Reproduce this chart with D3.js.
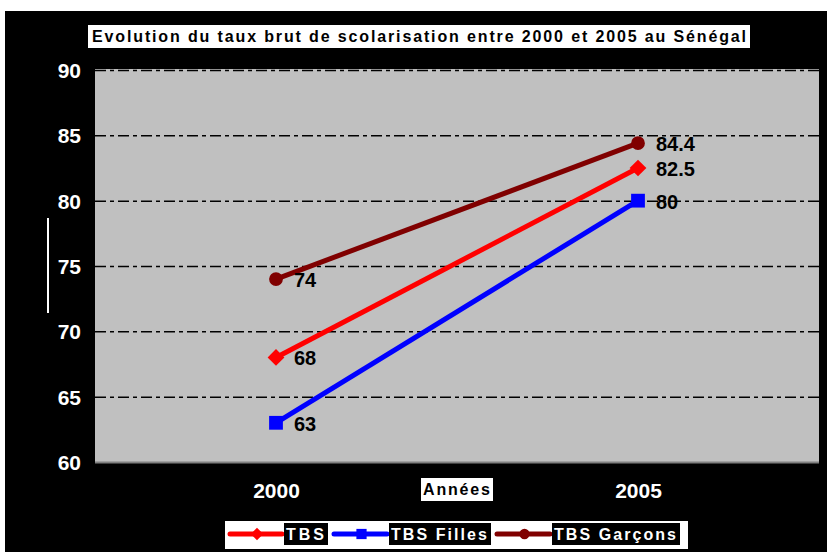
<!DOCTYPE html>
<html>
<head>
<meta charset="utf-8">
<script src="https://cdn.jsdelivr.net/npm/d3@7"></script>
<style>
  body { margin: 0; background: #fff; }
  text { font-family: Arial, "Liberation Sans", sans-serif; font-weight: bold; }
</style>
</head>
<body>
<div id="chart-area"></div>
<script>
const years = ["2000", "2005"];
const tbs = [68, 82.5];
const tbsFilles = [63, 80];
const tbsGarcons = [74, 84.4];
const yTicks = [60, 65, 70, 75, 80, 85, 90];

const series = [
  { name: "TBS", values: tbs, color: "#ff0000", symbol: d3.symbolSquare, rotate: 45, size: 140 },
  { name: "TBS Filles", values: tbsFilles, color: "#0000ff", symbol: d3.symbolSquare, rotate: 0, size: 190 },
  { name: "TBS Garçons", values: tbsGarcons, color: "#800000", symbol: d3.symbolCircle, rotate: 0, size: 150 }
];

const W = 827, H = 552;
const plot = { left: 95, right: 819, top: 70, bottom: 462 };
const font = "Arial, 'Liberation Sans', sans-serif";

const svg = d3.select("#chart-area")
  .append("svg")
    .attr("width", W)
    .attr("height", H);

// black frame with thin white margin
svg.append("rect")
  .attr("x", 5).attr("y", 11)
  .attr("width", W - 5).attr("height", H - 11)
  .attr("fill", "#000");

const xScale = d3.scalePoint()
  .domain(years)
  .range([plot.left, plot.right])
  .padding(0.5);

const yScale = d3.scaleLinear()
  .domain([60, 90])
  .range([plot.bottom, plot.top]);

svg.append("rect")
  .attr("x", plot.left).attr("y", plot.top - 1)
  .attr("width", plot.right - plot.left)
  .attr("height", plot.bottom - plot.top + 1)
  .attr("fill", "#c0c0c0");

// dash-dot gridlines
const yAxis = d3.axisLeft(yScale)
  .tickValues(yTicks)
  .tickSize(-(plot.right - plot.left))
  .tickPadding(14)
  .tickFormat(d3.format("d"));

const gy = svg.append("g")
  .attr("transform", `translate(${plot.left},0)`)
  .call(yAxis);
gy.select(".domain").remove();
gy.selectAll(".tick line")
  .attr("stroke", d => d === 60 ? "#808080" : "#000")
  .attr("stroke-width", d => d === 60 ? 2 : 1.5)
  .attr("stroke-dasharray", d => d === 60 ? null : "11,4,4,4");
gy.selectAll(".tick text")
  .attr("fill", "#fff")
  .attr("dy", "0.36em")
  .style("font-size", "21px")
  .style("font-family", font)
  .style("font-weight", "bold");

// leftover axis title stub
svg.append("rect")
  .attr("x", 47).attr("y", 218)
  .attr("width", 2).attr("height", 95)
  .attr("fill", "#fff");

const xAxis = d3.axisBottom(xScale).tickSize(0).tickPadding(21);
const gx = svg.append("g")
  .attr("transform", `translate(0,${plot.bottom})`)
  .call(xAxis);
gx.select(".domain").remove();
gx.selectAll(".tick text")
  .attr("fill", "#fff")
  .style("font-size", "21px")
  .style("font-family", font)
  .style("font-weight", "bold");

// title
svg.append("rect")
  .attr("x", 88).attr("y", 25)
  .attr("width", 662).attr("height", 23)
  .attr("fill", "#fff");
svg.append("text")
  .attr("x", 92).attr("y", 42)
  .attr("textLength", 654)
  .attr("lengthAdjust", "spacing")
  .style("font-size", "16px")
  .text("Evolution du taux brut de scolarisation entre 2000 et 2005 au Sénégal");

// x axis title
svg.append("rect")
  .attr("x", 421).attr("y", 478)
  .attr("width", 72).attr("height", 23)
  .attr("fill", "#fff");
svg.append("text")
  .attr("x", 423).attr("y", 495)
  .attr("textLength", 67)
  .attr("lengthAdjust", "spacing")
  .style("font-size", "16px")
  .text("Années");

const line = d3.line()
  .x((d, i) => xScale(years[i]))
  .y(d => yScale(d));

series.forEach(s => {
  svg.append("path")
    .datum(s.values)
    .attr("fill", "none")
    .attr("stroke", s.color)
    .attr("stroke-width", 5)
    .attr("d", line);

  svg.selectAll(null)
    .data(s.values)
    .enter()
    .append("path")
    .attr("transform", (d, i) => `translate(${xScale(years[i])},${yScale(d)}) rotate(${s.rotate})`)
    .attr("d", d3.symbol().type(s.symbol).size(s.size))
    .attr("fill", s.color);

  svg.selectAll(null)
    .data(s.values)
    .enter()
    .append("text")
    .attr("x", (d, i) => xScale(years[i]) + 18)
    .attr("y", d => yScale(d) + 8)
    .style("font-size", "20px")
    .attr("fill", "#000")
    .text(d => d);
});

// legend
const legend = svg.append("g");
legend.append("rect")
  .attr("x", 225).attr("y", 521)
  .attr("width", 463).attr("height", 28)
  .attr("fill", "#fff");

const legendItems = [
  { x: 230, lineEnd: 284, boxEnd: 328 },
  { x: 334, lineEnd: 389, boxEnd: 491 },
  { x: 497, lineEnd: 552, boxEnd: 680 }
];

series.forEach((s, i) => {
  const it = legendItems[i];
  const cy = 534;
  legend.append("line")
    .attr("x1", it.x).attr("x2", it.lineEnd - 2)
    .attr("y1", cy).attr("y2", cy)
    .attr("stroke", s.color)
    .attr("stroke-width", 5)
    .attr("stroke-linecap", "round");
  legend.append("path")
    .attr("transform", `translate(${(it.x + it.lineEnd) / 2},${cy}) rotate(${s.rotate})`)
    .attr("d", d3.symbol().type(s.symbol).size(s.size * 0.55))
    .attr("fill", s.color);
  legend.append("rect")
    .attr("x", it.lineEnd).attr("y", 523)
    .attr("width", it.boxEnd - it.lineEnd).attr("height", 22)
    .attr("fill", "#000");
  legend.append("text")
    .attr("x", it.lineEnd + 2).attr("y", 540)
    .attr("textLength", it.boxEnd - it.lineEnd - 6)
    .attr("lengthAdjust", "spacing")
    .attr("fill", "#fff")
    .style("font-size", "16px")
    .text(s.name);
});
</script>
</body>
</html>
